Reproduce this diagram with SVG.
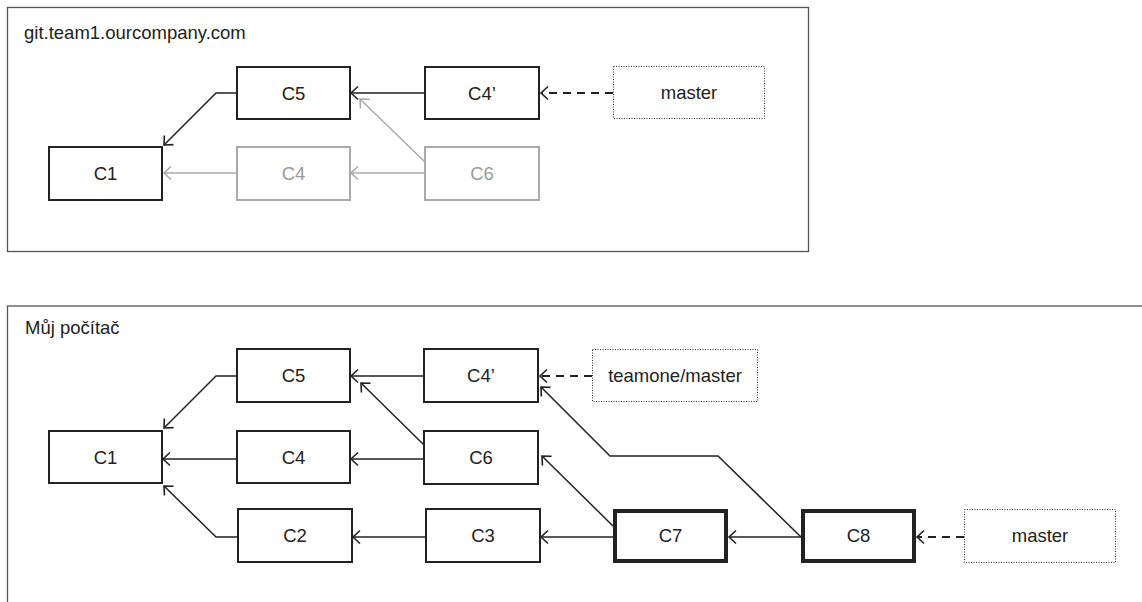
<svg xmlns="http://www.w3.org/2000/svg" width="1142" height="602" viewBox="0 0 1142 602">
<style>
.frame{fill:none;stroke:#555;stroke-width:1.3}
.box{fill:#fff;stroke:#222;stroke-width:2}
.thick{fill:#fff;stroke:#222;stroke-width:4}
.gbox{fill:#fff;stroke:#aaa;stroke-width:2}
.dot{fill:#fff;stroke:#333;stroke-width:1;stroke-dasharray:1 1.5}
.lbl{font-family:"Liberation Sans",Arial,sans-serif;font-size:18.5px;fill:#222;text-anchor:middle}
.glbl{font-family:"Liberation Sans",Arial,sans-serif;font-size:18.5px;fill:#999;text-anchor:middle}
.title{font-family:"Liberation Sans",Arial,sans-serif;font-size:18.5px;fill:#222}
.c{fill:none;stroke:#222;stroke-width:1.5;marker-end:url(#a)}
.g{fill:none;stroke:#aaa;stroke-width:1.5;marker-end:url(#ag)}
.d{fill:none;stroke:#222;stroke-width:2;stroke-dasharray:8 6;marker-end:url(#a)}
</style>
<defs>
<marker id="a" markerUnits="userSpaceOnUse" markerWidth="20" markerHeight="20" viewBox="-10 -10 20 20" refX="0" refY="0" orient="auto"><path d="M-7,-6.5 L0,0 L-7,6.5" fill="none" stroke="#222" stroke-width="1.6"/></marker>
<marker id="ag" markerUnits="userSpaceOnUse" markerWidth="20" markerHeight="20" viewBox="-10 -10 20 20" refX="0" refY="0" orient="auto"><path d="M-7,-6.5 L0,0 L-7,6.5" fill="none" stroke="#aaa" stroke-width="1.6"/></marker>
</defs>
<rect width="1142" height="602" fill="#fff"/>
<g id="frame-remote">
<rect class="frame" x="7.5" y="7.5" width="801" height="244"/>
<text class="title" x="24" y="38.5">git.team1.ourcompany.com</text>
</g>
<g id="frame-local">
<rect class="frame" x="7.5" y="306" width="1142" height="310"/>
<text class="title" x="25" y="334">Můj počítač</text>
</g>
<g id="connectors">
<path class="c" d="M237,93 H216 L164,145"/>
<path class="c" d="M425,93 H351"/>
<path class="d" d="M613,93 H541"/>
<path class="g" d="M425,162 L360,99"/>
<path class="g" d="M425,173 H351"/>
<path class="g" d="M237,173 H164"/>
<path class="c" d="M237,376 H216 L164,428"/>
<path class="c" d="M237,459 H163"/>
<path class="c" d="M238,537 H216 L164,486"/>
<path class="c" d="M424,376 H351"/>
<path class="c" d="M424,445 L361,383"/>
<path class="c" d="M424,459 H351"/>
<path class="c" d="M426,537 H353"/>
<path class="c" d="M613,537 H541"/>
<path class="c" d="M613,526 L542,456"/>
<path class="c" d="M801,537 H729"/>
<path class="c" d="M801,537 L718,456 H610 L541,387"/>
<path class="d" d="M592,376 H540"/>
<path class="d" d="M964,537 H917"/>
</g>
<g id="r-c5"><rect class="box" x="237" y="67" width="113" height="52"/><text class="lbl" x="293.5" y="99.5">C5</text></g>
<g id="r-c4p"><rect class="box" x="425" y="67" width="114" height="52"/><text class="lbl" x="482" y="99.5">C4’</text></g>
<g id="r-master"><rect class="dot" x="613.5" y="66.5" width="151" height="52"/><text class="lbl" x="689" y="99">master</text></g>
<g id="r-c1"><rect class="box" x="49" y="147" width="113" height="53"/><text class="lbl" x="105.5" y="180">C1</text></g>
<g id="r-c4"><rect class="gbox" x="237" y="147" width="113" height="53"/><text class="glbl" x="293.5" y="180">C4</text></g>
<g id="r-c6"><rect class="gbox" x="425" y="147" width="114" height="53"/><text class="glbl" x="482" y="180">C6</text></g>
<g id="l-c5"><rect class="box" x="237" y="349" width="113" height="53"/><text class="lbl" x="293.5" y="382">C5</text></g>
<g id="l-c4p"><rect class="box" x="424" y="349" width="114" height="53"/><text class="lbl" x="481" y="382">C4’</text></g>
<g id="l-teamone"><rect class="dot" x="592.5" y="349.5" width="165" height="52"/><text class="lbl" x="675" y="382">teamone/master</text></g>
<g id="l-c1"><rect class="box" x="49" y="431" width="113" height="52"/><text class="lbl" x="105.5" y="463.5">C1</text></g>
<g id="l-c4"><rect class="box" x="237" y="431" width="113" height="52"/><text class="lbl" x="293.5" y="463.5">C4</text></g>
<g id="l-c6"><rect class="box" x="424" y="431" width="114" height="53"/><text class="lbl" x="481" y="463.5">C6</text></g>
<g id="l-c2"><rect class="box" x="238" y="509" width="114" height="53"/><text class="lbl" x="295" y="542">C2</text></g>
<g id="l-c3"><rect class="box" x="426" y="509" width="114" height="53"/><text class="lbl" x="483" y="542">C3</text></g>
<g id="l-c7"><rect class="thick" x="615" y="511" width="111" height="50"/><text class="lbl" x="670.5" y="542">C7</text></g>
<g id="l-c8"><rect class="thick" x="803" y="511" width="111" height="50"/><text class="lbl" x="858.5" y="542">C8</text></g>
<g id="l-master"><rect class="dot" x="964.5" y="509.5" width="151" height="53"/><text class="lbl" x="1040" y="542">master</text></g>
</svg>
